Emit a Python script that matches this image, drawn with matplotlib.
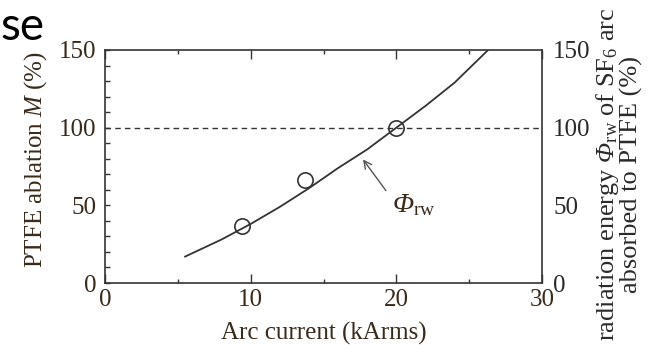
import matplotlib
matplotlib.use("Agg")
import matplotlib.pyplot as plt
from matplotlib.ticker import MultipleLocator

plt.rcParams['font.family'] = ['Liberation Serif', 'DejaVu Serif']
plt.rcParams['mathtext.fontset'] = 'custom'
plt.rcParams['mathtext.rm'] = 'Liberation Serif'
plt.rcParams['mathtext.it'] = 'Liberation Serif:italic'
plt.rcParams['mathtext.bf'] = 'Liberation Serif:italic'

# data
meas_x = [9.4, 13.7, 20.0]
meas_y = [37, 66, 100]
curve_x = [5.5, 8, 10, 12, 14, 16, 18, 20, 22, 24, 26.3]
curve_y = [17, 28, 38, 49, 61, 74, 86, 100, 114, 129, 150]
ref_level = 100
xticks = [0, 10, 20, 30]
yticks = [0, 50, 100, 150]

C = '#333333'
fig = plt.figure(figsize=(6.52, 3.45), dpi=100)
ax = fig.add_axes([105/652, 1-283/345, 437/652, 233/345])

ax.plot(curve_x, curve_y, color=C, lw=1.3)
ax.plot(meas_x, meas_y, 'o', ms=11, mfc='none', mec=C, mew=1.2)
ax.axhline(ref_level, color=C, lw=1.0, ls=(0, (4, 3)))

ax.set_xlim(0, 30)
ax.set_ylim(0, 150)
ax.set_xticks(xticks)
ax.set_yticks(yticks)
ax.xaxis.set_minor_locator(MultipleLocator(5))
ax.yaxis.set_minor_locator(MultipleLocator(10))
ax.tick_params(axis='x', which='major', direction='in', length=6.5, width=1, top=True, colors=C, labelsize=18, pad=4)
ax.tick_params(axis='x', which='minor', direction='in', length=3, width=1, top=True, colors=C)
ax.tick_params(axis='y', which='both', direction='in', length=3.5, width=1, right=True, colors=C, labelsize=18, pad=6)
for lab in ax.get_xticklabels() + ax.get_yticklabels():
    lab.set_color('#3a2a1a')
for s in ax.spines.values():
    s.set_color(C)
    s.set_linewidth(1.2)

ax2 = ax.twinx()
ax2.set_ylim(0, 150)
ax2.set_yticks(yticks)
ax2.tick_params(axis='y', which='both', direction='in', length=0, labelsize=18, pad=8, colors='#2a2a2a')
for s in ax2.spines.values():
    s.set_visible(False)

ax.set_xlabel('Arc current (kArms)', fontsize=18, color='#3a2a1a', labelpad=8)
ax.text(-0.16, 0.53, r'PTFE ablation $M$ (%)', transform=ax.transAxes, rotation=90,
        ha='center', va='center', fontsize=18, color='#3a2a1a')
ax.text(1.175, 0.465, 'radiation energy $\\mathbf{\\Phi}_{\\rm rw}$ of SF$_6$ arc\nabsorbed to PTFE (%)',
        transform=ax.transAxes, rotation=90, ha='center', va='center', fontsize=19,
        color='#2a2a2a', linespacing=0.9, multialignment='center')

ax.annotate('', xy=(17.6, 81), xytext=(19.4, 58),
            arrowprops=dict(arrowstyle='->', color='#555555', lw=1.0, mutation_scale=14))
ax.text(19.7, 50, r'$\mathbf{\Phi}_{\rm rw}$', fontsize=20, color='#3a2a1a', ha='left', va='center')

fig.text(0.0, 1-40/345, 'se', fontsize=33, family=['Lato', 'DejaVu Sans'], ha='left', va='baseline', color='black')

fig.savefig('out.png', dpi=100)
